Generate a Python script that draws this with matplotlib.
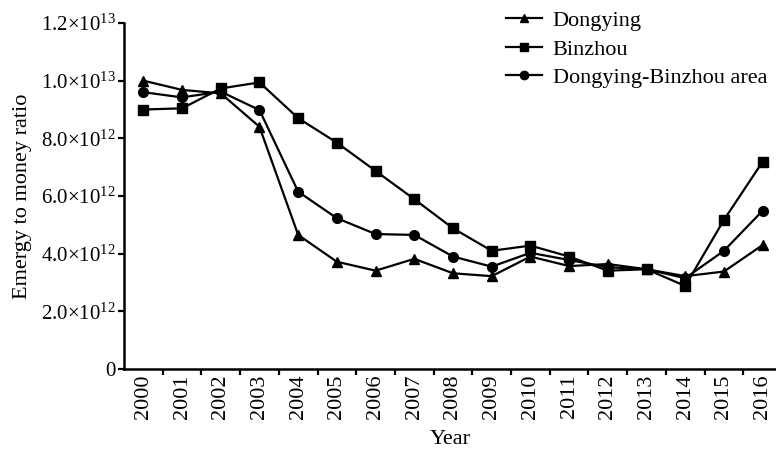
import matplotlib
matplotlib.use("Agg")
import matplotlib.pyplot as plt
from matplotlib.ticker import FixedLocator

plt.rcParams['font.family'] = ['Liberation Serif', 'DejaVu Serif']
plt.rcParams['mathtext.fontset'] = 'custom'
plt.rcParams['mathtext.rm'] = 'Liberation Serif'
plt.rcParams['mathtext.it'] = 'Liberation Serif:italic'

years = list(range(2000, 2017))
dongying = [10.0, 9.68, 9.56, 8.40, 4.65, 3.72, 3.41, 3.82, 3.32, 3.22, 3.90, 3.57, 3.64, 3.46, 3.22, 3.38, 4.30]
binzhou = [9.00, 9.04, 9.73, 9.94, 8.70, 7.85, 6.87, 5.89, 4.88, 4.10, 4.28, 3.90, 3.41, 3.46, 2.88, 5.17, 7.19]
area = [9.60, 9.42, 9.62, 8.98, 6.15, 5.23, 4.68, 4.65, 3.90, 3.55, 4.03, 3.78, 3.53, 3.46, 3.15, 4.10, 5.49]
scale = 1e12
y_ticks = [0, 2e12, 4e12, 6e12, 8e12, 1e13, 1.2e13]
y_labels = ['0', r'2.0$\times$10$^{12}$', r'4.0$\times$10$^{12}$', r'6.0$\times$10$^{12}$',
            r'8.0$\times$10$^{12}$', r'1.0$\times$10$^{13}$', r'1.2$\times$10$^{13}$']

fig = plt.figure(figsize=(7.76, 4.5), dpi=100)
ax = fig.add_axes([124/776, 1-369/450, (776-124)/776, (369-23)/450])

ax.plot(years, [v*scale for v in dongying], '-^', color='black', lw=1.6, ms=7.5, label='Dongying')
ax.plot(years, [v*scale for v in binzhou], '-s', color='black', lw=1.6, ms=7, label='Binzhou')
ax.plot(years, [v*scale for v in area], '-o', color='black', lw=1.6, ms=7, label='Dongying-Binzhou area')

ax.set_xlim(1999.5, 2016.5 - 6/38.8)
ax.set_ylim(0, 1.2e13)
ax.set_yticks(y_ticks)
ax.set_yticklabels(y_labels)
ax.set_xticks(years)
ax.set_xticklabels([str(y) for y in years], rotation=90)
ax.tick_params(axis='x', which='major', length=0, labelsize=16, pad=4)
ax.xaxis.set_minor_locator(FixedLocator([y + 0.5 for y in years]))
ax.tick_params(axis='x', which='minor', length=4, width=1.6, direction='out')
ax.tick_params(axis='y', length=4, width=1.6, labelsize=15, pad=2)

for s in ['top', 'right']:
    ax.spines[s].set_visible(False)
for s in ['left', 'bottom']:
    ax.spines[s].set_linewidth(1.8)

ax.set_ylabel('Emergy to money ratio', fontsize=16, labelpad=6)
ax.set_xlabel('Year', fontsize=16, labelpad=8)

leg = ax.legend(loc='upper right', bbox_to_anchor=(1.0, 1.062), frameon=False, fontsize=16,
                handlelength=1.6, labelspacing=0.36, handletextpad=0.5, borderaxespad=0)
for h in leg.legend_handles:
    h.set_markersize(6)

fig.savefig('out.png', dpi=100)
